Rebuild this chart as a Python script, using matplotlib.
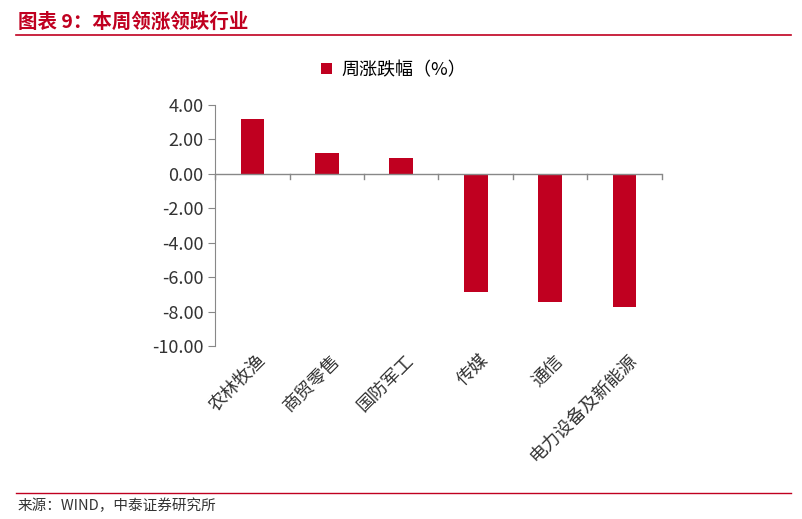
import matplotlib
matplotlib.use("Agg")
import matplotlib.pyplot as plt
import matplotlib.lines as mlines

plt.rcParams['font.family'] = ['Noto Sans CJK SC', 'DejaVu Sans']

categories = ["农林牧渔", "商贸零售", "国防军工", "传媒", "通信", "电力设备及新能源"]
values = [3.2, 1.2, 0.9, -6.85, -7.45, -7.7]
yticks = [4, 2, 0, -2, -4, -6, -8, -10]
red = "#C00020"

fig = plt.figure(figsize=(8.03, 5.19), dpi=100)
ax = fig.add_axes([0.268, 0.333, 0.556, 0.465])
x = range(len(categories))
ax.bar(x, values, width=0.32, color=red, label="周涨跌幅（%）", zorder=3)
ax.set_xlim(-0.5, len(categories) - 0.5)
ax.set_ylim(-10, 4)
ax.set_yticks(yticks)
ax.set_yticklabels([f"{v:.2f}" for v in yticks], fontsize=13, color="#333333")
for s in ["top", "right", "bottom"]:
    ax.spines[s].set_visible(False)
ax.spines["left"].set_color("#888888")
ax.tick_params(axis="y", length=5, color="#888888")
ax.axhline(0, color="#888888", lw=1, zorder=4)
ax.set_xticks([])
for i in range(len(categories) + 1):
    ax.plot([i - 0.5, i - 0.5], [0, -0.3], color="#888888", lw=1, clip_on=False, zorder=4)
for i, c in enumerate(categories):
    ax.text(i + 0.05, -10.3, c, rotation=45, ha="right", va="top", fontsize=13,
            color="#333333", rotation_mode="anchor")
ax.legend(loc="lower center", bbox_to_anchor=(0.4, 1.04), frameon=False, fontsize=13,
          handlelength=0.6, handleheight=0.6, handletextpad=0.5)

fig.text(0.022, 0.958, "图表 9：本周领涨领跌行业", color=red, fontsize=14, fontweight="bold",
         style="italic", va="center")
fig.add_artist(mlines.Line2D([0.02, 0.985], [0.933, 0.933], color=red, lw=1.2))
fig.add_artist(mlines.Line2D([0.02, 0.985], [0.05, 0.05], color=red, lw=1.0))
fig.text(0.022, 0.026, "来源：WIND，中泰证券研究所", fontsize=10.5, color="#333333", va="center")
fig.savefig("out.png", dpi=100)
